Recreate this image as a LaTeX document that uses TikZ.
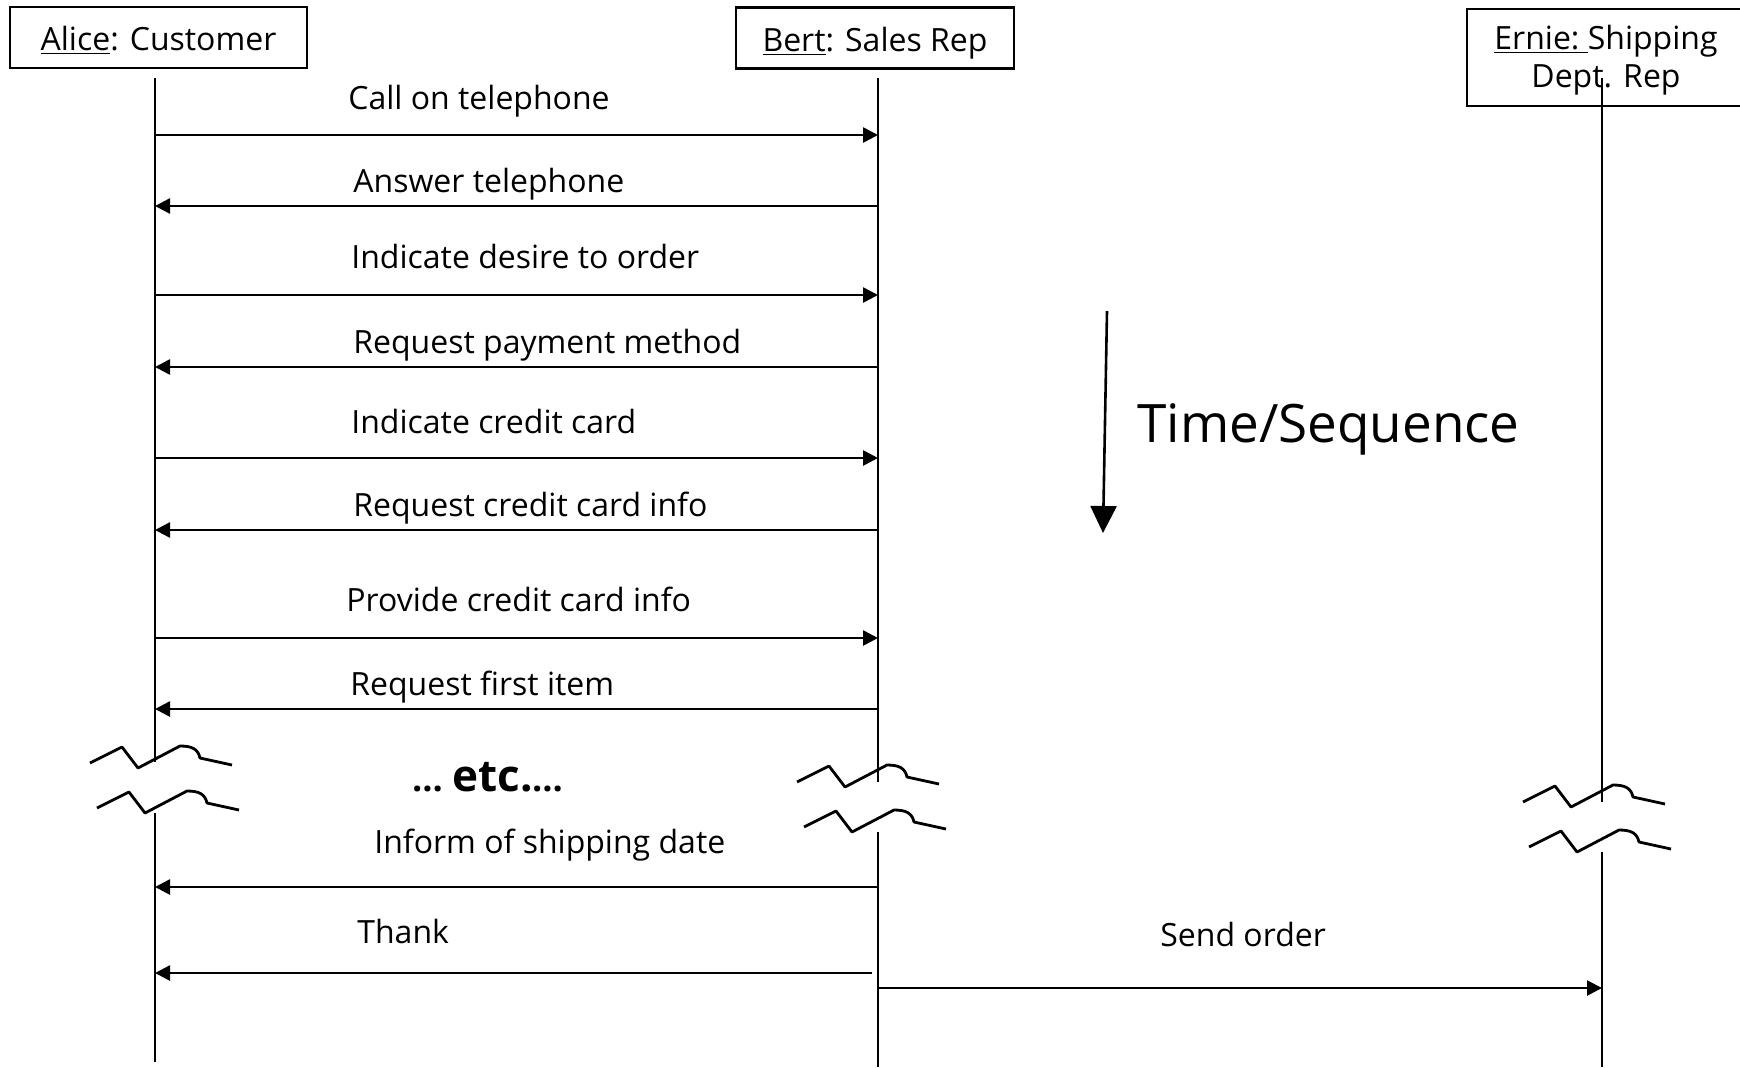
\documentclass[tikz,border=0pt]{standalone}
\usepackage{fontspec}
\setmainfont{Open Sans}
\usetikzlibrary{arrows.meta}
\tikzset{
        lifebreak/.pic={
                \draw[line width=1.4pt, line join=round] (0,0) -- (32,-16) -- (48,5) -- (90,-17) .. controls (102,-17) and (108,-14) .. (110,-5) -- (142,2);
        }
}
\begin{document}
\begin{tikzpicture}[x=0.5pt, y=-0.5pt,
        actor/.style={draw, line width=1.4pt, inner sep=0pt, font=\fontsize{16}{19.1}\selectfont},
        life/.style={line width=1.3pt},
        msg/.style={line width=1.3pt, -{Triangle[length=7.5pt,width=7.5pt]}},
        lbl/.style={anchor=west, inner sep=0pt, yshift=-1.75pt, font=\fontsize{16}{18}\selectfont, text height=11.5pt, text depth=3.5pt}]
        \useasboundingbox (0,0) rectangle (1740,1067);

        \node[actor, minimum width=148.5pt, minimum height=30.5pt] (alice) at (158.5,37.5) {\raisebox{-6.5pt}[0pt][0pt]{\underline{Alice}: Customer}};
        \node[actor, minimum width=139pt, minimum height=30.5pt] (bert) at (875,38) {\raisebox{-6.5pt}[0pt][0pt]{\underline{Bert}: Sales Rep}};
        \node[actor, minimum width=139pt, minimum height=48.5pt] (ernie) at (1606,57.5) {\raisebox{-6pt}[0pt][0pt]{\begin{tabular}{@{}c@{}}\underline{Ernie:~}Shipping\\Dept. Rep\end{tabular}}};

        \coordinate (la) at (155,78);
        \coordinate (lb) at (878,78);
        \coordinate (le) at (1602,78);

        \draw[life] (la) -- (la |- 0,762);
        \draw[life] (la |- 0,813) -- (la |- 0,1062);
        \draw[life] (lb) -- (lb |- 0,782);
        \draw[life] (lb |- 0,832) -- (lb |- 0,1067);
        \draw[life] (le) -- (le |- 0,802);
        \draw[life] (le |- 0,852) -- (le |- 0,1067);

        \pic at (90,763) {lifebreak};
        \pic at (97,808) {lifebreak};
        \pic at (797,782) {lifebreak};
        \pic at (804,827) {lifebreak};
        \pic at (1523,802) {lifebreak};
        \pic at (1529,847) {lifebreak};

        \node[lbl] (m1) at (348,98) {Call on telephone};
        \draw[msg] (la |- 0,135) -- (lb |- 0,135);
        \node[lbl] (m2) at (353,181) {Answer telephone};
        \draw[msg] (lb |- 0,206) -- (la |- 0,206);
        \node[lbl] (m3) at (351,257) {Indicate desire to order};
        \draw[msg] (la |- 0,295) -- (lb |- 0,295);
        \node[lbl] (m4) at (353,342) {Request payment method};
        \draw[msg] (lb |- 0,367) -- (la |- 0,367);
        \node[lbl] (m5) at (351,422) {Indicate credit card};
        \draw[msg] (la |- 0,458) -- (lb |- 0,458);
        \node[lbl] (m6) at (353,505) {Request credit card info};
        \draw[msg] (lb |- 0,530) -- (la |- 0,530);
        \node[lbl] (m7) at (346,600) {Provide credit card info};
        \draw[msg] (la |- 0,638) -- (lb |- 0,638);
        \node[lbl] (m8) at (350,684) {Request first item};
        \draw[msg] (lb |- 0,709) -- (la |- 0,709);

        \node[font=\bfseries\fontsize{18}{20}\selectfont] (etc) at (488,777) {\ldots\ {\fontsize{22}{24}\selectfont etc.}\ldots};

        \node[lbl] (m9) at (374,842) {Inform of shipping date};
        \draw[msg] (lb |- 0,887) -- (la |- 0,887);
        \node[lbl] (m10) at (357,932) {Thank};
        \draw[msg] ([xshift=-3pt]lb |- 0,973) -- (la |- 0,973);
        \node[lbl] (m11) at (1160,935) {Send order};
        \draw[msg] (lb |- 0,988) -- (le |- 0,988);

        \coordinate (t0) at (1107,311);
        \coordinate (t1) at (1103,533);
        \draw[line width=1.3pt, -{Triangle[length=13.5pt,width=13pt]}] (t0) -- (t1);
        \node[anchor=west, inner sep=0pt, yshift=-2.8pt, font=\fontsize{26.5}{30}\selectfont] (time) at (1137,424) {Time/Sequence};
\end{tikzpicture}
\end{document}
